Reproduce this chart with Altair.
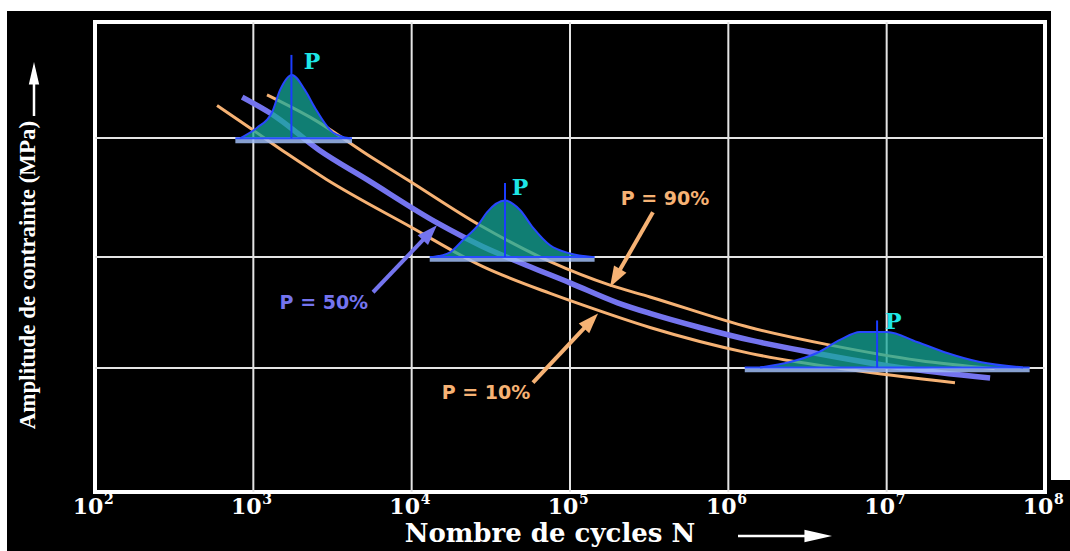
import math
import altair as alt
import pandas as pd

# ---------------- data ----------------
# S-N curves (N cycles, stress amplitude in arbitrary MPa units)
n_p50 = [850, 1400, 2600, 5200, 14500, 28000, 53000, 100000, 200000, 320000, 660000, 1.4e6, 3.3e6, 1.2e7, 4.5e7]
s_p50 = [336, 319, 291, 266, 229, 209, 193, 178, 161, 152, 140, 129, 119, 106, 97]
n_p90 = [1220, 2280, 5700, 9350, 27000, 75000, 179000, 320000, 1.37e6, 4.4e6, 1.6e7, 4.8e7]
s_p90 = [338, 319, 284, 266, 227, 196, 176, 166, 140, 125, 112, 105]
n_p10 = [590, 995, 1630, 2900, 9750, 28000, 75000, 121000, 320000, 1.37e6, 5.9e6, 2.7e7]
s_p10 = [329, 308, 288, 266, 226, 192, 169, 159, 140, 118, 104, 93]

# scatter distributions (bells) at three stress levels
bell1_n = [824, 1055, 1312, 1474, 1754, 2118, 2449, 3182, 4080]
bell1_s = [301, 310, 323, 342, 355, 342, 327, 306, 301]
bell2_n = [13650, 17470, 21100, 26200, 29900, 38850, 48300, 58350, 74800, 100000, 137700]
bell2_s = [200, 204, 214.5, 227, 238, 248, 240, 225, 210, 203, 200]
bell3_n = [1.585e6, 2.45e6, 3.63e6, 5.07e6, 6.79e6, 1.005e7, 1.555e7, 2.405e7, 3.88e7, 7.26e7]
bell3_s = [106, 110.6, 118.3, 129.4, 136.2, 136.2, 127.7, 118.3, 110.6, 106]
bell_base = [301, 200, 106]
bell_names = ["b1", "b2", "b3"]

peak_n = [1740, 38850, 8.7e6]
peak_top = [372, 263, 146]
band_start = [770, 13000, 1.27e6]
band_end = [4200, 143000, 8.0e7]

p_label_n = [2350, 48300, 1.1e7]
p_label_s = [366, 259, 145]
p_label_text = ["P", "P", "P"]

# annotation labels and arrows
ann_text = ["P = 50%", "P = 90%", "P = 10%"]
ann_n = [2790, 398000, 29440]
ann_s = [161, 249, 84]
arrow_start_n = [5700, 334000, 58350]
arrow_start_s = [170, 238, 93]
arrow_tip_n = [14450, 179000, 150300]
arrow_tip_s = [227, 174.5, 152]

# axes
grid_decades = [1e3, 1e4, 1e5, 1e6, 1e7]
grid_levels = [105.5, 200, 301.3]
tick_exp = [2, 3, 4, 5, 6, 7, 8]
tick_sup = ["2", "3", "4", "5", "6", "7", "8"]

# ---------------- chart ----------------
W, H = 950, 470
X_DOMAIN = [100, 1e8]
Y_DOMAIN = [0, 400]
BLUE = "#7474ee"
ORANGE = "#f6b274"
SERIF = "DejaVu Serif"

xs = alt.Scale(type="log", domain=X_DOMAIN, nice=False)
ys = alt.Scale(domain=Y_DOMAIN, nice=False, zero=False)


def X(f):
    return alt.X(f, type="quantitative", scale=xs, axis=None)


def Y(f):
    return alt.Y(f, type="quantitative", scale=ys, axis=None)


def to_px(n, s):
    return (math.log10(n / X_DOMAIN[0]) / math.log10(X_DOMAIN[1] / X_DOMAIN[0]) * W,
            (1 - s / Y_DOMAIN[1]) * H)


def from_px(px, py):
    return (X_DOMAIN[0] * 10 ** (px / W * math.log10(X_DOMAIN[1] / X_DOMAIN[0])),
            Y_DOMAIN[1] * (1 - py / H))


one = pd.DataFrame({"a": [0]})

# white margins of the original picture
strips = [
    alt.Chart(one).mark_rect(color="white").encode(
        x=alt.value(-95), x2=alt.value(975), y=alt.value(-22), y2=alt.value(-11)),
    alt.Chart(one).mark_rect(color="white").encode(
        x=alt.value(-95), x2=alt.value(-88), y=alt.value(-22), y2=alt.value(529)),
    alt.Chart(one).mark_rect(color="white").encode(
        x=alt.value(956), x2=alt.value(975), y=alt.value(-22), y2=alt.value(458)),
]

gx = alt.Chart(pd.DataFrame({"n": grid_decades})).mark_rule(
    color="#e4e4e4", strokeWidth=2).encode(x=X("n"))
gy = alt.Chart(pd.DataFrame({"s": grid_levels})).mark_rule(
    color="#e4e4e4", strokeWidth=2).encode(y=Y("s"))

df_orange = pd.concat([
    pd.DataFrame({"n": n_p90, "s": s_p90, "series": "P = 90%"}),
    pd.DataFrame({"n": n_p10, "s": s_p10, "series": "P = 10%"}),
])
orange = alt.Chart(df_orange).mark_line(
    color=ORANGE, strokeWidth=3, interpolate="monotone").encode(
    x=X("n"), y=Y("s"), detail="series:N")
blue = alt.Chart(pd.DataFrame({"n": n_p50, "s": s_p50})).mark_line(
    color=BLUE, strokeWidth=5.5, interpolate="monotone").encode(x=X("n"), y=Y("s"))

df_bells = pd.concat([
    pd.DataFrame({"n": bn, "s": bs, "base": bb, "bell": name})
    for bn, bs, bb, name in zip([bell1_n, bell2_n, bell3_n],
                                [bell1_s, bell2_s, bell3_s], bell_base, bell_names)
])
bell_area = alt.Chart(df_bells).mark_area(
    color="#16a89a", opacity=0.75, interpolate="monotone").encode(
    x=X("n"), y=Y("s"), y2=alt.Y2("base"), detail="bell:N")
bell_line = alt.Chart(df_bells).mark_line(
    color="#2848ff", strokeWidth=2, interpolate="monotone").encode(
    x=X("n"), y=Y("s"), detail="bell:N")

df_band = pd.DataFrame({"n1": band_start, "n2": band_end, "base": bell_base})
band_light = alt.Chart(df_band).transform_calculate(low="datum.base - 2").mark_rule(
    color="#9fbcf4", strokeWidth=5, opacity=0.85).encode(
    x=X("n1"), x2=alt.X2("n2"), y=Y("low:Q"))
band_line = alt.Chart(df_band).mark_rule(color="#2a4cff", strokeWidth=2).encode(
    x=X("n1"), x2=alt.X2("n2"), y=Y("base"))

df_peak = pd.DataFrame({"n": peak_n, "top": peak_top, "base": bell_base})
peak = alt.Chart(df_peak).mark_rule(color="#1b3cff", strokeWidth=2).encode(
    x=X("n"), y=Y("top"), y2=alt.Y2("base"))

p_labels = alt.Chart(pd.DataFrame({"n": p_label_n, "s": p_label_s, "t": p_label_text})).mark_text(
    font=SERIF, fontWeight="bold", fontSize=22, color="#1ee6e6").encode(
    x=X("n"), y=Y("s"), text="t:N")

# annotation arrows
rows = []
for t, n1, s1, n2, s2 in zip(ann_text, arrow_start_n, arrow_start_s, arrow_tip_n, arrow_tip_s):
    x1, y1 = to_px(n1, s1)
    x2, y2 = to_px(n2, s2)
    dx, dy = x2 - x1, y2 - y1
    L = math.hypot(dx, dy)
    ex, ey = from_px(x2 - dx / L * 12, y2 - dy / L * 12)
    ang = math.degrees(math.atan2(dx, -dy)) % 360
    rows.append({"label": t, "n1": n1, "s1": s1, "ne": ex, "se": ey,
                 "n2": n2, "s2": s2, "angle": ang})
df_arrows = pd.DataFrame(rows)
ann_color = alt.Color("label:N", scale=alt.Scale(domain=ann_text, range=[BLUE, ORANGE, ORANGE]),
                      legend=None)
shafts = alt.Chart(df_arrows).mark_rule(strokeWidth=4).encode(
    x=X("n1"), y=Y("s1"), x2=alt.X2("ne"), y2=alt.Y2("se"), color=ann_color)
HEAD = "M0,0L-0.7,2L0.7,2Z"
heads = alt.Chart(df_arrows).mark_point(shape=HEAD, filled=True, size=420, opacity=1).encode(
    x=X("n2"), y=Y("s2"), angle=alt.Angle("angle:Q", scale=None), color=ann_color)
ann_labels = alt.Chart(pd.DataFrame({"label": ann_text, "n": ann_n, "s": ann_s})).mark_text(
    font="DejaVu Sans", fontWeight="bold", fontSize=19).encode(
    x=X("n"), y=Y("s"), text="label:N", color=ann_color)

# tick labels 10^k
df_ticks = pd.DataFrame({"n": [10.0 ** e for e in tick_exp], "sup": tick_sup, "base": "10"})
tick_base = alt.Chart(df_ticks).mark_text(
    font=SERIF, fontWeight="bold", fontSize=22, color="white", align="center",
    baseline="alphabetic", dx=-7).encode(x=X("n"), y=alt.value(492), text="base:N")
tick_sup_l = alt.Chart(df_ticks).mark_text(
    font=SERIF, fontWeight="bold", fontSize=14, color="white", align="left",
    baseline="alphabetic", dx=9).encode(x=X("n"), y=alt.value(482), text="sup:N")

# axis titles with arrows
TITLE_HEAD = "M0,0L-0.6,2.6L0.6,2.6Z"
x_title = alt.Chart(one).mark_text(
    text="Nombre de cycles N", font=SERIF, fontWeight="bold", fontSize=26, color="white",
    align="center", baseline="alphabetic").encode(x=alt.value(455), y=alt.value(520))
x_shaft = alt.Chart(one).mark_rule(color="white", strokeWidth=2.5).encode(
    x=alt.value(643), x2=alt.value(720), y=alt.value(514))
x_head = alt.Chart(one).mark_point(shape=TITLE_HEAD, filled=True, size=450, color="white",
                                   opacity=1, angle=90).encode(
    x=alt.value(737), y=alt.value(514))
y_title = alt.Chart(one).mark_text(
    text="Amplitude de contrainte  (MPa)", font="Liberation Serif", fontWeight="bold",
    fontSize=23, color="white", align="center", baseline="middle", angle=270).encode(
    x=alt.value(-67), y=alt.value(253))
y_shaft = alt.Chart(one).mark_rule(color="white", strokeWidth=2.5).encode(
    x=alt.value(-61), y=alt.value(94), y2=alt.value(52))
y_head = alt.Chart(one).mark_point(shape=TITLE_HEAD, filled=True, size=300, color="white",
                                   opacity=1, angle=0).encode(
    x=alt.value(-61), y=alt.value(40))

chart = alt.layer(
    *strips, gx, gy, orange, blue, bell_area, band_light, band_line, bell_line, peak,
    p_labels, shafts, heads, ann_labels, tick_base, tick_sup_l,
    x_title, x_shaft, x_head, y_title, y_shaft, y_head,
).properties(
    width=W, height=H, background="black",
    autosize=alt.AutoSizeParams(type="none"),
    padding={"left": 95, "top": 22, "right": 25, "bottom": 59},
).configure_view(stroke="white", strokeWidth=4, fill="black")

chart.save("out.html", embed_options={"renderer": "svg", "actions": False})
